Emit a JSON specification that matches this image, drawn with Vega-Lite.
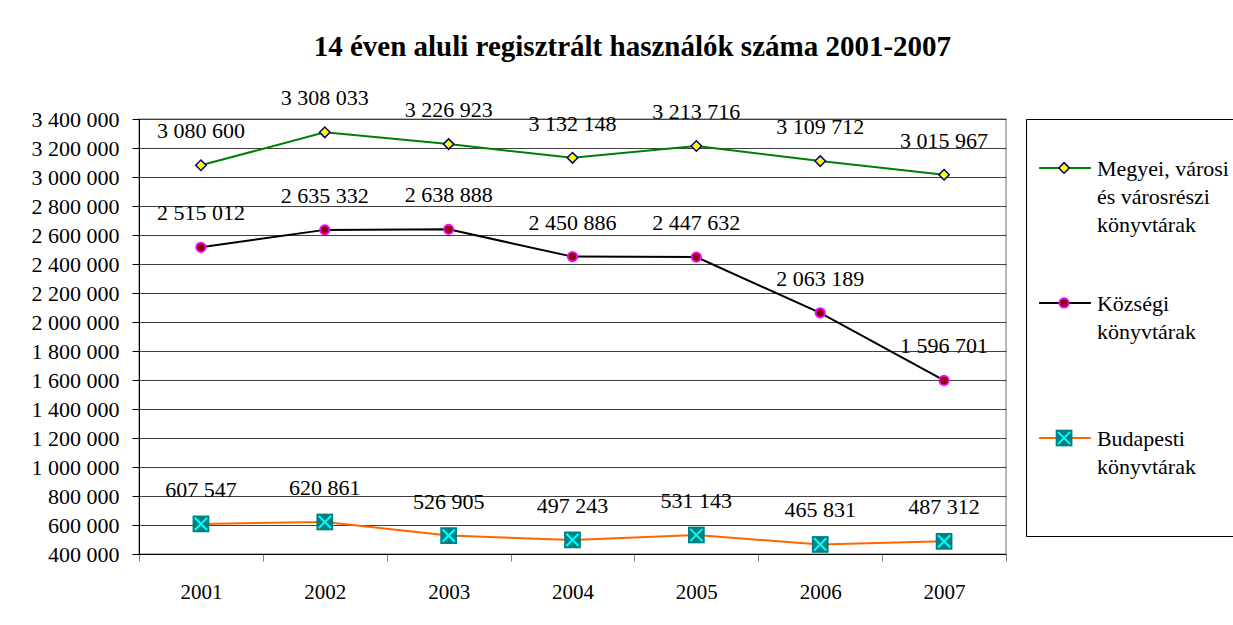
{
  "$schema": "https://vega.github.io/schema/vega-lite/v6.json",
  "background": "white",
  "padding": {"left": 30, "top": 32, "right": 0, "bottom": 0},
  "autosize": {"type": "pad"},
  "title": {"text": "14 éven aluli regisztrált használók száma 2001-2007", "font": "Liberation Serif", "fontSize": 29, "fontWeight": "bold", "color": "black", "anchor": "middle", "offset": 25},
  "config": {
    "locale": {"number": {"decimal": ",", "thousands": " ", "grouping": [3], "currency": ["", ""]}},
    "font": "Liberation Serif"
  },
  "bounds": "flush",
  "spacing": 20,
  "resolve": {"scale": {"x": "independent", "y": "independent"}},
  "datasets": {
    "main": [
      {"year": "2001", "series": "Megyei, városi és városrészi könyvtárak", "value": 3080600},
      {"year": "2002", "series": "Megyei, városi és városrészi könyvtárak", "value": 3308033},
      {"year": "2003", "series": "Megyei, városi és városrészi könyvtárak", "value": 3226923},
      {"year": "2004", "series": "Megyei, városi és városrészi könyvtárak", "value": 3132148},
      {"year": "2005", "series": "Megyei, városi és városrészi könyvtárak", "value": 3213716},
      {"year": "2006", "series": "Megyei, városi és városrészi könyvtárak", "value": 3109712},
      {"year": "2007", "series": "Megyei, városi és városrészi könyvtárak", "value": 3015967},
      {"year": "2001", "series": "Községi könyvtárak", "value": 2515012},
      {"year": "2002", "series": "Községi könyvtárak", "value": 2635332},
      {"year": "2003", "series": "Községi könyvtárak", "value": 2638888},
      {"year": "2004", "series": "Községi könyvtárak", "value": 2450886},
      {"year": "2005", "series": "Községi könyvtárak", "value": 2447632},
      {"year": "2006", "series": "Községi könyvtárak", "value": 2063189},
      {"year": "2007", "series": "Községi könyvtárak", "value": 1596701},
      {"year": "2001", "series": "Budapesti könyvtárak", "value": 607547},
      {"year": "2002", "series": "Budapesti könyvtárak", "value": 620861},
      {"year": "2003", "series": "Budapesti könyvtárak", "value": 526905},
      {"year": "2004", "series": "Budapesti könyvtárak", "value": 497243},
      {"year": "2005", "series": "Budapesti könyvtárak", "value": 531143},
      {"year": "2006", "series": "Budapesti könyvtárak", "value": 465831},
      {"year": "2007", "series": "Budapesti könyvtárak", "value": 487312}
    ],
    "legend": [
      {"series": "Megyei, városi és városrészi könyvtárak", "label": ["Megyei, városi", "és városrészi", "könyvtárak"]},
      {"series": "Községi könyvtárak", "label": ["Községi", "könyvtárak"]},
      {"series": "Budapesti könyvtárak", "label": ["Budapesti", "könyvtárak"]}
    ]
  },
  "hconcat": [
    {
      "width": 867,
      "height": 435,
      "data": {"name": "main"},
      "view": {"stroke": "#a0a0a0", "strokeWidth": 1.5},
      "encoding": {
        "x": {
          "field": "year", "type": "ordinal",
          "scale": {"type": "band", "paddingInner": 0, "paddingOuter": 0},
          "axis": {"title": null, "labelAngle": 0, "tickBand": "extent", "tickSize": 7, "tickColor": "#808080", "domainColor": "black", "labelFontSize": 21, "labelPadding": 20, "labelColor": "black", "labelFont": "Liberation Serif", "grid": false}
        },
        "y": {
          "field": "value", "type": "quantitative",
          "scale": {"domain": [400000, 3400000], "nice": false, "zero": false},
          "axis": {"title": null, "values": [400000, 600000, 800000, 1000000, 1200000, 1400000, 1600000, 1800000, 2000000, 2200000, 2400000, 2600000, 2800000, 3000000, 3200000, 3400000], "format": ",d", "tickSize": 7, "labelPadding": 13, "labelFontSize": 22, "labelFont": "Liberation Serif", "labelColor": "black", "grid": true, "gridColor": "#404040", "gridWidth": 1, "domainColor": "black", "tickColor": "black"}
        }
      },
      "layer": [
        {
          "mark": {"type": "line", "strokeWidth": 2},
          "encoding": {
            "color": {"field": "series", "type": "nominal", "scale": {"domain": ["Megyei, városi és városrészi könyvtárak", "Községi könyvtárak", "Budapesti könyvtárak"], "range": ["#008000", "#000000", "#FF6600"]}, "legend": null}
          }
        },
        {
          "transform": [{"filter": "datum.series == 'Megyei, városi és városrészi könyvtárak'"}],
          "mark": {"type": "point", "shape": "diamond", "size": 110, "filled": true, "fill": "#FFFF00", "stroke": "#000080", "strokeWidth": 1.5, "opacity": 1}
        },
        {
          "transform": [{"filter": "datum.series == 'Községi könyvtárak'"}],
          "mark": {"type": "point", "shape": "circle", "size": 85, "filled": true, "fill": "#800000", "stroke": "#FF00FF", "strokeWidth": 2, "opacity": 1}
        },
        {
          "transform": [{"filter": "datum.series == 'Budapesti könyvtárak'"}],
          "mark": {"type": "point", "shape": "square", "size": 280, "filled": true, "fill": "#008080", "strokeWidth": 0, "opacity": 1}
        },
        {
          "transform": [{"filter": "datum.series == 'Budapesti könyvtárak'"}],
          "mark": {"type": "point", "shape": "M-1,-1L1,1M-1,1L1,-1", "size": 150, "filled": false, "stroke": "#00FFFF", "strokeWidth": 2, "opacity": 1}
        },
        {
          "mark": {"type": "text", "fontSize": 22, "font": "Liberation Serif", "color": "black", "dy": -34, "baseline": "middle", "align": "center"},
          "encoding": {"text": {"field": "value", "type": "quantitative", "format": ",d"}}
        }
      ]
    },
    {
      "width": 208,
      "height": 417,
      "data": {"name": "legend"},
      "view": {"stroke": "black", "strokeWidth": 1},
      "encoding": {
        "y": {"field": "series", "type": "nominal", "scale": {"type": "point", "domain": ["Megyei, városi és városrészi könyvtárak", "Községi könyvtárak", "Budapesti könyvtárak"], "padding": 0.544, "align": 0.333}, "axis": null}
      },
      "layer": [
        {
          "mark": {"type": "rule", "strokeWidth": 2},
          "encoding": {
            "x": {"datum": 0.063, "type": "quantitative", "scale": {"domain": [0, 1]}, "axis": null},
            "x2": {"datum": 0.312},
            "color": {"field": "series", "type": "nominal", "scale": {"domain": ["Megyei, városi és városrészi könyvtárak", "Községi könyvtárak", "Budapesti könyvtárak"], "range": ["#008000", "#000000", "#FF6600"]}, "legend": null}
          }
        },
        {
          "transform": [{"filter": "datum.series == 'Megyei, városi és városrészi könyvtárak'"}],
          "mark": {"type": "point", "shape": "diamond", "size": 110, "filled": true, "fill": "#FFFF00", "stroke": "#000080", "strokeWidth": 1.5, "opacity": 1},
          "encoding": {"x": {"datum": 0.183, "type": "quantitative"}}
        },
        {
          "transform": [{"filter": "datum.series == 'Községi könyvtárak'"}],
          "mark": {"type": "point", "shape": "circle", "size": 85, "filled": true, "fill": "#800000", "stroke": "#FF00FF", "strokeWidth": 2, "opacity": 1},
          "encoding": {"x": {"datum": 0.183, "type": "quantitative"}}
        },
        {
          "transform": [{"filter": "datum.series == 'Budapesti könyvtárak'"}],
          "mark": {"type": "point", "shape": "square", "size": 280, "filled": true, "fill": "#008080", "strokeWidth": 0, "opacity": 1},
          "encoding": {"x": {"datum": 0.183, "type": "quantitative"}}
        },
        {
          "transform": [{"filter": "datum.series == 'Budapesti könyvtárak'"}],
          "mark": {"type": "point", "shape": "M-1,-1L1,1M-1,1L1,-1", "size": 150, "filled": false, "stroke": "#00FFFF", "strokeWidth": 2, "opacity": 1},
          "encoding": {"x": {"datum": 0.183, "type": "quantitative"}}
        },
        {
          "mark": {"type": "text", "fontSize": 22, "font": "Liberation Serif", "color": "black", "align": "left", "baseline": "alphabetic", "dy": 8, "lineHeight": 28},
          "encoding": {
            "x": {"datum": 0.341, "type": "quantitative"},
            "text": {"field": "label", "type": "nominal"}
          }
        }
      ]
    }
  ]
}
